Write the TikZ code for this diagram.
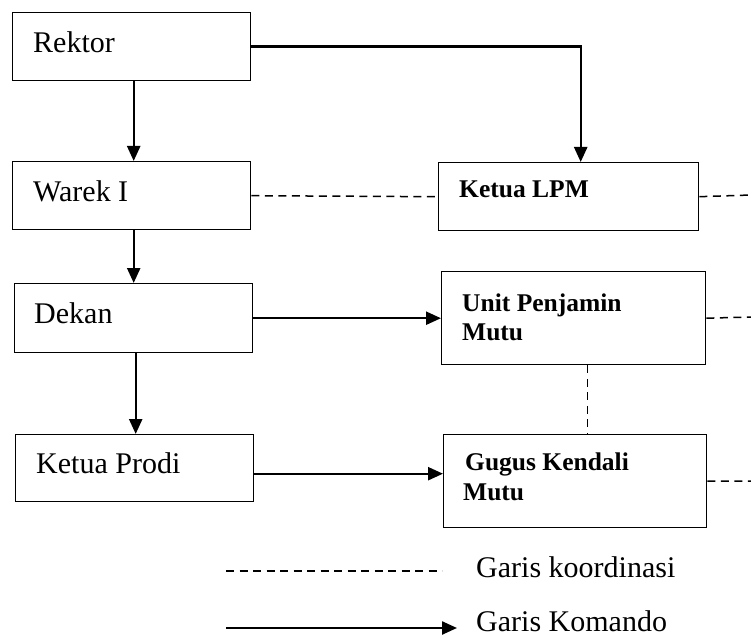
\documentclass[tikz,border=0pt]{standalone}
\usepackage{fontspec}
\setmainfont{Liberation Serif}
\usetikzlibrary{arrows.meta}
\begin{document}
\begin{tikzpicture}[x=1pt,y=-1pt,
  box/.style={draw,line width=1.4pt,rectangle,inner sep=0pt,anchor=north west},
  normtxt/.style={anchor=base west,inner sep=0pt,font=\fontsize{30}{34}\selectfont},
  boldtxt/.style={anchor=base west,inner sep=0pt,font=\fontsize{25.5}{29}\selectfont\bfseries},
  cmd/.style={line width=2.4pt,-{Triangle[length=15pt,width=13pt]}},
  coord/.style={line width=1.5pt,dash pattern=on 8pt off 5.5pt}]
\useasboundingbox (0,0) rectangle (751,636);
% boxes
\node[box,minimum width=238pt,minimum height=68pt] (rektor) at (12,12) {};
\node[box,minimum width=238pt,minimum height=68pt] (warek) at (12,161) {};
\node[box,minimum width=260pt,minimum height=68pt] (lpm) at (438,162) {};
\node[box,minimum width=238pt,minimum height=69pt] (dekan) at (14,283) {};
\node[box,minimum width=264pt,minimum height=93pt] (upm) at (441,271) {};
\node[box,minimum width=238pt,minimum height=67pt] (prodi) at (15,434) {};
\node[box,minimum width=263pt,minimum height=93pt] (gugus) at (443,434) {};
% texts
\node[normtxt] (t1) at (33,53) {Rektor};
\node[normtxt] (t2) at (33,202) {Warek I};
\node[boldtxt] (t3) at (459,197) {Ketua LPM};
\node[normtxt] (t4) at (34,323) {Dekan};
\node[boldtxt] (t5) at (462,311) {Unit Penjamin};
\node[boldtxt] (t6) at (462,340) {Mutu};
\node[normtxt] (t7) at (36,473) {Ketua Prodi};
\node[boldtxt] (t8) at (465,470) {Gugus Kendali};
\node[boldtxt] (t9) at (463,500) {Mutu};
% command lines
\draw[cmd] ([xshift=2pt]rektor.south) -- ([xshift=2pt]rektor.south |- warek.north);
\draw[cmd] (rektor.east) -| ([xshift=12pt]lpm.north);
\draw[cmd] ([xshift=2pt]warek.south) -- ([xshift=2pt]warek.south |- dekan.north);
\draw[cmd] ([xshift=2pt]dekan.south) -- ([xshift=2pt]dekan.south |- prodi.north);
\draw[cmd] (dekan.east) -- (upm.west);
\draw[cmd] ([yshift=-5.5pt]prodi.east) -- ([yshift=-5.5pt]prodi.east -| gugus.west);
% coordination lines
\coordinate (r1) at (751,195);
\coordinate (r2) at (751,317);
\coordinate (r3) at (751,481);
\draw[coord] (warek.east) -- (lpm.west);
\draw[coord] (lpm.east) -- (r1);
\draw[coord] (upm.east) -- (r2);
\draw[coord] ([xshift=14pt]upm.south) -- ([xshift=14pt]upm.south |- gugus.north);
\draw[coord] (gugus.east) -- (r3);
% legend
\coordinate (l1) at (226,571);
\coordinate (l2) at (442,571);
\coordinate (l3) at (226,628);
\coordinate (l4) at (457,628);
\draw[coord] (l1) -- (l2);
\draw[cmd] (l3) -- (l4);
\node[normtxt] (g1) at (476,577) {Garis koordinasi};
\node[normtxt] (g2) at (476,631) {Garis Komando};
\end{tikzpicture}
\end{document}
